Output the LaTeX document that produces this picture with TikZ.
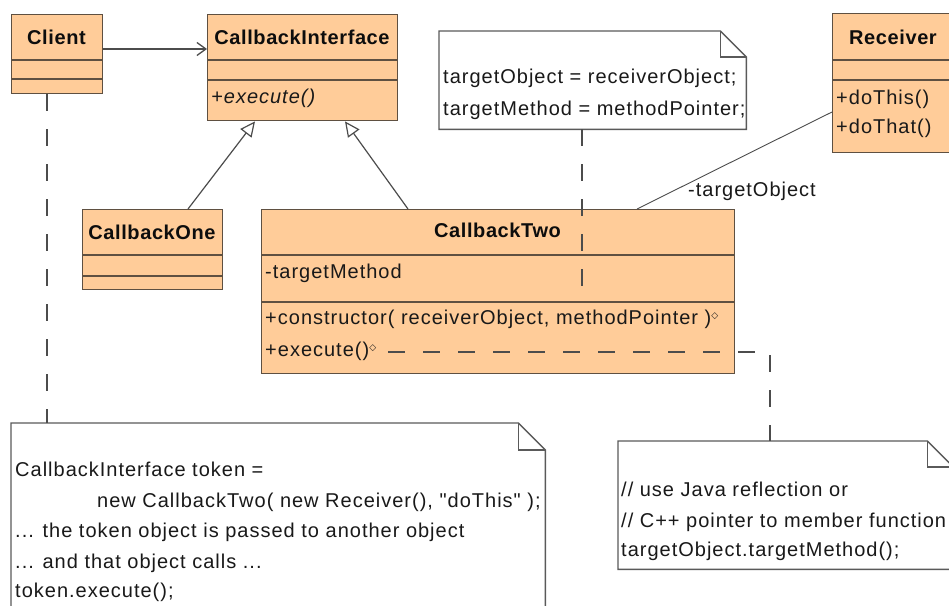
\documentclass[tikz,border=0pt]{standalone}
\usepackage{fontspec}
\setmainfont{Liberation Sans}[Ligatures=TeXOff, LetterSpace=5, BoldFeatures={LetterSpace=3}]
\newfontfamily\symfont{DejaVu Sans}
\usetikzlibrary{arrows.meta}
\definecolor{classfill}{RGB}{255,204,153}
\definecolor{classline}{RGB}{95,80,65}
\definecolor{notegray}{RGB}{90,90,90}
\newcommand{\opmark}{\raisebox{0.6ex}{\symfont\fontsize{9}{9}\selectfont ◇}}

\begin{document}
\begin{tikzpicture}[
    x=1pt, y=-1pt,
    classbox/.style={rectangle, draw=classline, fill=classfill, line width=1.4pt, anchor=north west, inner sep=0pt},
    notebox/.style={rectangle, anchor=north west, inner sep=0pt},
    title/.style={font=\fontsize{20}{20}\selectfont\bfseries, text=black!95, inner sep=0pt},
    member/.style={font=\fontsize{20}{20}\selectfont, text=black!90, anchor=base west, inner sep=0pt},
    compline/.style={draw=classline, line width=1.4pt},
    noteline/.style={draw=notegray, line width=1.4pt},
    uses/.style={-{Straight Barb[length=9pt,width=13pt]}, draw=black!70, line width=1.3pt},
    realizes/.style={-{Triangle[open, length=15pt, width=14pt]}, draw=black!70, line width=1.2pt},
    assoc/.style={draw=black!70, line width=0.9pt},
    anchorline/.style={draw=black!70, line width=1.5pt, dash pattern=on 17pt off 18pt}
]
    \fill[white] (0,0) rectangle (949,605);
    \useasboundingbox (0,0) rectangle (949,605);

    % Klassen
    \node[classbox, minimum width=91, minimum height=79] (client) at (11,14) {};
    \draw[compline] (client.west |- 0,60) -- (client.east |- 0,60);
    \draw[compline] (client.west |- 0,79) -- (client.east |- 0,79);
    \node[title] (clientname) at (56.5,37) {Client};

    \node[classbox, minimum width=190, minimum height=106] (iface) at (207,14) {};
    \draw[compline] (iface.west |- 0,60) -- (iface.east |- 0,60);
    \draw[compline] (iface.west |- 0,80) -- (iface.east |- 0,80);
    \node[title] (ifacename) at (302,37) {CallbackInterface};
    \node[member] (ifaceexec) at (211,103) {\itshape +execute()};

    \node[classbox, minimum width=123, minimum height=139] (receiver) at (832,13) {};
    \draw[compline] (receiver.west |- 0,60) -- (receiver.east |- 0,60);
    \draw[compline] (receiver.west |- 0,80) -- (receiver.east |- 0,80);
    \node[title] (receivername) at (893,37) {Receiver};
    \node[member] (dothis) at (836,104.5) {+doThis()};
    \node[member] (dothat) at (836,133.5) {+doThat()};

    \node[classbox, minimum width=140, minimum height=80] (one) at (82,209) {};
    \draw[compline] (one.west |- 0,255) -- (one.east |- 0,255);
    \draw[compline] (one.west |- 0,276) -- (one.east |- 0,276);
    \node[title] (onename) at (152,232) {CallbackOne};

    \node[classbox, minimum width=473, minimum height=164] (two) at (261,209) {};
    \draw[compline] (two.west |- 0,255) -- (two.east |- 0,255);
    \draw[compline] (two.west |- 0,302) -- (two.east |- 0,302);
    \node[title] (twoname) at (497.5,230) {CallbackTwo};
    \node[member] (twomethod) at (265,278.5) {-targetMethod};
    \node[member] (twoctor) at (265,324.5) {+constructor( receiverObject, methodPointer )\opmark};
    \node[member] (twoexec) at (265,356.5) {+execute()\opmark};

    % Notizen
    \node[notebox, minimum width=307, minimum height=98] (note1) at (439,31) {};
    \draw[noteline, fill=white] (note1.south west) -- (note1.north west) -- ([xshift=-26pt]note1.north east)
        -- ([yshift=-26pt]note1.north east) -- (note1.south east) -- cycle;
    \draw[noteline] ([xshift=-26pt]note1.north east) -- ([xshift=-26pt,yshift=-26pt]note1.north east)
        -- ([yshift=-26pt]note1.north east);
    \node[member] (note1a) at (443,83.5) {targetObject = receiverObject;};
    \node[member] (note1b) at (443,115.5) {targetMethod = methodPointer;};

    \node[notebox, minimum width=534, minimum height=200] (note2) at (11,423) {};
    \draw[noteline, fill=white] (note2.south west) -- (note2.north west) -- ([xshift=-27pt]note2.north east)
        -- ([yshift=-27pt]note2.north east) -- (note2.south east) -- cycle;
    \draw[noteline] ([xshift=-27pt]note2.north east) -- ([xshift=-27pt,yshift=-27pt]note2.north east)
        -- ([yshift=-27pt]note2.north east);
    \node[member] (note2a) at (15,476.5) {CallbackInterface token =};
    \node[member] (note2b) at (97,507) {new CallbackTwo( new Receiver(), "doThis" );};
    \node[member] (note2c) at (15,537.5) {... the token object is passed to another object};
    \node[member] (note2d) at (15,568) {... and that object calls ...};
    \node[member] (note2e) at (15,597) {token.execute();};

    \node[notebox, minimum width=335, minimum height=128] (note3) at (618,441) {};
    \draw[noteline, fill=white] (note3.south west) -- (note3.north west) -- ([xshift=-26pt]note3.north east)
        -- ([yshift=-26pt]note3.north east) -- (note3.south east) -- cycle;
    \draw[noteline] ([xshift=-26pt]note3.north east) -- ([xshift=-26pt,yshift=-26pt]note3.north east)
        -- ([yshift=-26pt]note3.north east);
    \node[member] (note3a) at (621,496.5) {// use Java reflection or};
    \node[member] (note3b) at (621,527.5) {// C++ pointer to member function};
    \node[member] (note3c) at (621,556.5) {targetObject.targetMethod();};

    % Beziehungen
    \draw[uses] (client.east |- 0,49) -- (iface.west |- 0,49);
    \draw[realizes] (one.north -| 188,0) -- (iface.south -| 255,0);
    \draw[realizes] (two.north -| 408,0) -- (iface.south -| 345,0);
    \draw[assoc] (receiver.west |- 0,112) -- node[member, pos=0.74, yshift=-12.7pt] (targetlabel) {-targetObject} (two.north -| 637,0);

    % Ankerlinien
    \coordinate (ctorpoint) at (582,302);
    \coordinate (execpoint) at (388,352);
    \coordinate (execbend) at (770,352);
    \draw[anchorline] (client.south -| 47,0) -- (note2.north -| 47,0);
    \draw[anchorline] (note1.south -| ctorpoint) -- (ctorpoint);
    \draw[anchorline] (execpoint) -- (execbend) -- (execbend |- note3.north);
\end{tikzpicture}
\end{document}
